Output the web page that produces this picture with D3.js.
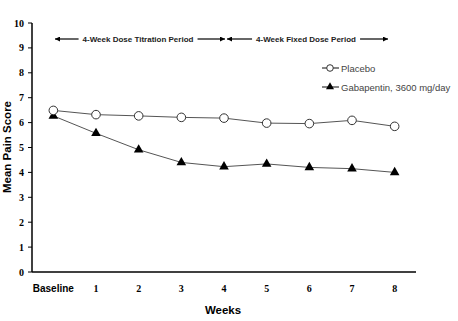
<!DOCTYPE html>
<html><head><meta charset="utf-8">
<script src="https://cdn.jsdelivr.net/npm/d3@7"></script>
<style>body{margin:0;background:#fff}svg{display:block}</style>
</head><body>
<script>
const categories = ["Baseline","1","2","3","4","5","6","7","8"];
const placebo = [6.49,6.32,6.27,6.21,6.18,5.98,5.96,6.09,5.85];
const gabapentin = [6.27,5.57,4.91,4.40,4.23,4.34,4.20,4.15,4.00];
const yTicks = [0,1,2,3,4,5,6,7,8,9,10];
const seriesNames = ["Placebo","Gabapentin, 3600 mg/day"];
const periods = ["4-Week Dose Titration Period","4-Week Fixed Dose Period"];

const W=458,H=321;
const svg=d3.select("body").append("svg").attr("width",W).attr("height",H);
const x=d3.scaleBand().domain(categories).range([32,416]);
const y=d3.scaleLinear().domain([0,10]).range([272,23]);
const cx=d=>x(d)+x.bandwidth()/2;

// axes
svg.append("line").attr("x1",32).attr("x2",32).attr("y1",y(10)).attr("y2",y(0)).attr("stroke","#000").attr("stroke-width",1.5);
svg.append("line").attr("x1",32).attr("x2",416).attr("y1",y(0)).attr("y2",y(0)).attr("stroke","#000").attr("stroke-width",1.5);
yTicks.forEach(t=>{
  svg.append("line").attr("x1",28).attr("x2",32).attr("y1",y(t)).attr("y2",y(t)).attr("stroke","#000");
  svg.append("text").attr("x",24).attr("y",y(t)+3.5).attr("text-anchor","end")
    .attr("font-family","Liberation Serif").attr("font-weight","bold").attr("font-size",10).text(t);
});
categories.forEach((c,i)=>{
  svg.append("text").attr("x",cx(c)).attr("y",292).attr("text-anchor","middle")
    .attr("font-family",i===0?"Liberation Sans":"Liberation Serif").attr("font-weight","bold")
    .attr("font-size",10).text(c);
});
svg.append("text").attr("x",223).attr("y",314).attr("text-anchor","middle")
  .attr("font-family","Liberation Sans").attr("font-weight","bold").attr("font-size",11.5).text("Weeks");
svg.append("text").attr("transform","translate(11,147) rotate(-90)").attr("text-anchor","middle")
  .attr("font-family","Liberation Sans").attr("font-weight","bold").attr("font-size",11.5).text("Mean Pain Score");

// period annotations
const defs=svg.append("defs");
defs.append("marker").attr("id","ah").attr("viewBox","0 0 10 10").attr("refX",10).attr("refY",5)
  .attr("markerWidth",7).attr("markerHeight",5).attr("markerUnits","userSpaceOnUse").attr("orient","auto-start-reverse")
  .append("path").attr("d","M0,0L10,5L0,10z").attr("fill","#000");
const ay=39;
const per=[{x1:55,x2:225,tc:138},{x1:227,x2:388,tc:306}];
per.forEach((p,i)=>{
  const t=svg.append("text").attr("x",p.tc).attr("y",ay+3).attr("text-anchor","middle")
    .attr("font-family","Liberation Sans").attr("font-weight","bold").attr("font-size",8).attr("fill","#222").text(periods[i]);
  const b=t.node().getBBox();
  svg.append("line").attr("x1",p.x1).attr("x2",b.x-4).attr("y1",ay).attr("y2",ay).attr("stroke","#000").attr("stroke-width",1.2).attr("marker-start","url(#ah)");
  svg.append("line").attr("x1",b.x+b.width+4).attr("x2",p.x2).attr("y1",ay).attr("y2",ay).attr("stroke","#000").attr("stroke-width",1.2).attr("marker-end","url(#ah)");
});

// lines
const line=d3.line().x((d,i)=>cx(categories[i])).y(d=>y(d));
svg.append("path").attr("d",line(placebo)).attr("fill","none").attr("stroke","#555").attr("stroke-width",1);
svg.append("path").attr("d",line(gabapentin)).attr("fill","none").attr("stroke","#555").attr("stroke-width",1);
const tri=d3.symbol().type(d3.symbolTriangle).size(40);
svg.selectAll(".tri").data(gabapentin).enter().append("path")
  .attr("transform",(d,i)=>`translate(${cx(categories[i])},${y(d)})`).attr("d",tri).attr("fill","#000");
svg.selectAll(".circ").data(placebo).enter().append("circle")
  .attr("cx",(d,i)=>cx(categories[i])).attr("cy",d=>y(d)).attr("r",4.3)
  .attr("fill","#fff").attr("stroke","#333").attr("stroke-width",1);

// legend
const lg=[{y:68,type:"c"},{y:87,type:"t"}];
lg.forEach((l,i)=>{
  svg.append("line").attr("x1",322).attr("x2",339).attr("y1",l.y).attr("y2",l.y).attr("stroke","#333").attr("stroke-width",1.2);
  if(l.type==="c") svg.append("circle").attr("cx",330).attr("cy",l.y).attr("r",3.3).attr("fill","#fff").attr("stroke","#333");
  else svg.append("path").attr("transform",`translate(330,${l.y})`).attr("d",d3.symbol().type(d3.symbolTriangle).size(28)).attr("fill","#000");
  svg.append("text").attr("x",341).attr("y",l.y+3.5).attr("font-family","Liberation Sans").attr("font-size",9.5).attr("fill","#444").text(seriesNames[i]);
});
</script>
</body></html>
